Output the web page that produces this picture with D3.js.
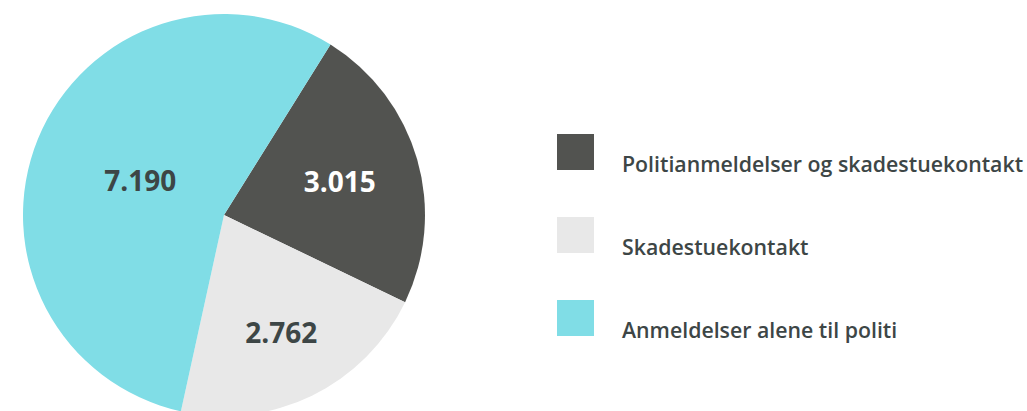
<!DOCTYPE html>
<html>
<head>
<meta charset="utf-8">
<script src="https://cdn.jsdelivr.net/npm/d3@7"></script>
<style>
  html, body { margin: 0; padding: 0; background: #fff; }
  svg { display: block; }
  text { font-family: "Open Sans", "Noto Sans", sans-serif; }
</style>
</head>
<body>
<div id="chart"></div>
<script>
const categories = ['Politianmeldelser og skadestuekontakt', 'Skadestuekontakt', 'Anmeldelser alene til politi'];
const values = [3015, 2762, 7190];
const valueLabels = ['3.015', '2.762', '7.190'];
const colors = ['#525350', '#e8e8e8', '#80dde6'];
const labelColors = ['#ffffff', '#3d4646', '#3d4646'];

const width = 1027, height = 411;
const cx = 224, cy = 215, radius = 201;
const startDeg = 32;
// how far out along each slice the number sits (fraction of radius)
const labelPos = [0.6, 0.65, 0.45];

const svg = d3.select('#chart').append('svg')
    .attr('width', width)
    .attr('height', height);

const pie = d3.pie()
    .sort(null)
    .startAngle(startDeg * Math.PI / 180)
    .endAngle((startDeg + 360) * Math.PI / 180);

const arcs = pie(values);
const arc = d3.arc().innerRadius(0).outerRadius(radius);

const g = svg.append('g').attr('transform', `translate(${cx},${cy})`);

g.selectAll('path')
    .data(arcs)
    .join('path')
    .attr('d', arc)
    .attr('fill', (d, i) => colors[i]);

g.selectAll('text.val')
    .data(arcs)
    .join('text')
    .attr('class', 'val')
    .attr('transform', (d, i) => {
        const r = radius * labelPos[i];
        const a = (d.startAngle + d.endAngle) / 2;
        return `translate(${r * Math.sin(a)},${-r * Math.cos(a)})`;
    })
    .attr('text-anchor', 'middle')
    .attr('dy', '0.36em')
    .attr('fill', (d, i) => labelColors[i])
    .style('font-size', '28px')
    .style('font-weight', 700)
    .text((d, i) => valueLabels[i]);

// legend
const legendY = d3.scalePoint()
    .domain(categories)
    .range([152, 318]);

const legend = svg.append('g');
const items = legend.selectAll('g')
    .data(categories)
    .join('g')
    .attr('transform', d => `translate(557,${legendY(d)})`);

items.append('rect')
    .attr('x', 0)
    .attr('y', -18)
    .attr('width', 37)
    .attr('height', 36)
    .attr('fill', (d, i) => colors[i]);

items.append('text')
    .attr('x', 65)
    .attr('y', 20)
    .attr('fill', '#3d4646')
    .style('font-size', '21.3px')
    .style('font-weight', 600)
    .text(d => d);
</script>
</body>
</html>
